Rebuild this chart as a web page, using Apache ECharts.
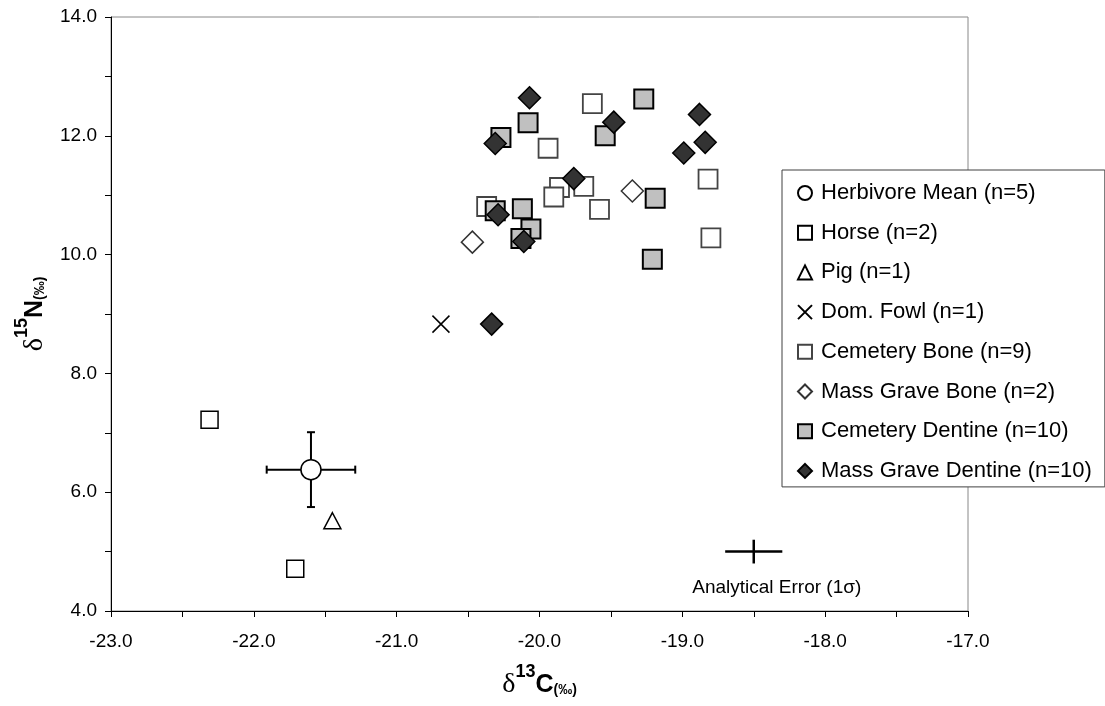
<!DOCTYPE html>
<html>
<head>
<meta charset="utf-8">
<script src="https://cdn.jsdelivr.net/npm/echarts@6/dist/echarts.min.js"></script>
<style>
  html, body { margin: 0; padding: 0; background: #fff; }
  #chart { width: 1105px; height: 706px; }
</style>
</head>
<body>
<div id="chart"></div>
<script>
// [d13C, d15N] pairs
const herbivoreMean = [[-21.6, 6.38]];
const herbivoreSd = [[0.31, 0.63]];
const horse = [[-22.31, 7.22], [-21.71, 4.71]];
const pig = [[-21.45, 5.52]];
const domFowl = [[-20.69, 8.83]];
const cemeteryBone = [
  [-19.63, 12.54], [-19.94, 11.79], [-18.82, 11.27], [-19.69, 11.15], [-19.86, 11.13],
  [-19.90, 10.97], [-19.58, 10.76], [-20.37, 10.81], [-18.80, 10.28]
];
const massGraveBone = [[-19.35, 11.07], [-20.47, 10.21]];
const cemeteryDentine = [
  [-20.08, 12.22], [-20.27, 11.97], [-19.27, 12.62], [-19.54, 12.00], [-19.19, 10.95],
  [-19.21, 9.92], [-20.12, 10.77], [-20.31, 10.74], [-20.06, 10.43], [-20.13, 10.27]
];
const massGraveDentine = [
  [-20.07, 12.64], [-20.31, 11.87], [-19.48, 12.23], [-18.88, 12.36], [-18.84, 11.89],
  [-18.99, 11.71], [-19.76, 11.28], [-20.29, 10.67], [-20.11, 10.22], [-20.335, 8.83]
];
const analyticalError = [[-18.5, 5.0]];
const analyticalSd = [[0.2, 0.2]];

const legendNames = [
  'Herbivore Mean (n=5)', 'Horse (n=2)', 'Pig (n=1)', 'Dom. Fowl (n=1)',
  'Cemetery Bone (n=9)', 'Mass Grave Bone (n=2)', 'Cemetery Dentine (n=10)', 'Mass Grave Dentine (n=10)'
];

const FONT = 'Liberation Sans';

function isWhole(v) { return Math.abs(v - Math.round(v)) < 1e-9; }

function errorBarItem(params, api) {
  const x = api.value(0), y = api.value(1), sx = api.value(2), sy = api.value(3);
  const l = api.coord([x - sx, y]), r = api.coord([x + sx, y]);
  const t = api.coord([x, y + sy]), b = api.coord([x, y - sy]);
  const st = { stroke: '#000', lineWidth: 2 };
  const cap = 4;
  return {
    type: 'group',
    children: [
      { type: 'line', shape: { x1: l[0], y1: l[1], x2: r[0], y2: r[1] }, style: st },
      { type: 'line', shape: { x1: t[0], y1: t[1], x2: b[0], y2: b[1] }, style: st },
      { type: 'line', shape: { x1: l[0], y1: l[1] - cap, x2: l[0], y2: l[1] + cap }, style: st },
      { type: 'line', shape: { x1: r[0], y1: r[1] - cap, x2: r[0], y2: r[1] + cap }, style: st },
      { type: 'line', shape: { x1: t[0] - cap, y1: t[1], x2: t[0] + cap, y2: t[1] }, style: st },
      { type: 'line', shape: { x1: b[0] - cap, y1: b[1], x2: b[0] + cap, y2: b[1] }, style: st }
    ]
  };
}

function analyticalItem(params, api) {
  const x = api.value(0), y = api.value(1), sx = api.value(2), sy = api.value(3);
  const c = api.coord([x, y]);
  const l = api.coord([x - sx, y]), r = api.coord([x + sx, y]);
  const t = api.coord([x, y + sy]), b = api.coord([x, y - sy]);
  const st = { stroke: '#000', lineWidth: 2.5 };
  return {
    type: 'group',
    children: [
      { type: 'line', shape: { x1: l[0], y1: l[1], x2: r[0], y2: r[1] }, style: st },
      { type: 'line', shape: { x1: t[0], y1: t[1], x2: b[0], y2: b[1] }, style: st },
      {
        type: 'text',
        style: {
          text: 'Analytical Error (1σ)', x: c[0] + 23, y: c[1] + 36,
          align: 'center', verticalAlign: 'middle',
          font: '19px "' + FONT + '"', fill: '#000'
        }
      }
    ]
  };
}

const titleRich = {
  d: { fontFamily: 'Liberation Serif', fontSize: 28, color: '#000' },
  s: { fontFamily: FONT, fontSize: 18, fontWeight: 'bold', color: '#000', padding: [0, 0, 26, 0] },
  m: { fontFamily: FONT, fontSize: 25, fontWeight: 'bold', color: '#000' },
  u: { fontFamily: FONT, fontSize: 14, fontWeight: 'bold', color: '#000', padding: [11, 0, 0, 0] }
};

const chart = echarts.init(document.getElementById('chart'));
chart.setOption({
  animation: false,
  backgroundColor: '#fff',
  textStyle: { fontFamily: FONT },
  grid: { left: 111, right: 137, top: 17, bottom: 95, show: true, borderColor: '#888', borderWidth: 1 },
  xAxis: {
    type: 'value', min: -23, max: -17, interval: 0.5,
    name: '{d|δ}{s|13}{m|C}{u|(‰)}', nameLocation: 'middle', nameGap: 52,
    nameTextStyle: { rich: titleRich },
    axisLine: { show: true, onZero: false, lineStyle: { color: '#000', width: 1 } },
    axisTick: { show: true, length: 6, lineStyle: { color: '#000' } },
    axisLabel: {
      color: '#000', fontSize: 19, margin: 21, fontFamily: FONT,
      formatter: v => isWhole(v) ? v.toFixed(1) : ''
    },
    splitLine: { show: false }
  },
  yAxis: {
    type: 'value', min: 4, max: 14, interval: 1,
    name: '{d|δ}{s|15}{m|N}{u|(‰)}', nameLocation: 'middle', nameRotate: 90, nameGap: 52,
    nameTextStyle: { rich: titleRich },
    axisLine: { show: true, onZero: false, lineStyle: { color: '#000', width: 1 } },
    axisTick: { show: true, length: 6, lineStyle: { color: '#000' } },
    axisLabel: {
      color: '#000', fontSize: 19, margin: 14, fontFamily: FONT,
      formatter: v => (isWhole(v) && Math.round(v) % 2 === 0) ? v.toFixed(1) : ''
    },
    splitLine: { show: false }
  },
  legend: {
    orient: 'vertical', left: 782, top: 170,
    padding: [12, 13, 5, 15],
    itemGap: 17.7, itemWidth: 14, itemHeight: 14,
    backgroundColor: '#fff', borderColor: '#404040', borderWidth: 1,
    textStyle: { fontFamily: FONT, fontSize: 22, lineHeight: 22, color: '#000', padding: [0, 0, 0, 4] },
    data: legendNames, selectedMode: false, z: 10
  },
  series: [
    {
      name: 'sd', type: 'custom', renderItem: errorBarItem, z: 1,
      data: herbivoreMean.map((p, i) => [p[0], p[1], herbivoreSd[i][0], herbivoreSd[i][1]])
    },
    {
      name: 'analytical', type: 'custom', renderItem: analyticalItem, z: 1,
      data: analyticalError.map((p, i) => [p[0], p[1], analyticalSd[i][0], analyticalSd[i][1]])
    },
    {
      name: legendNames[0], type: 'scatter', data: herbivoreMean, z: 3,
      symbol: 'circle', symbolSize: 20,
      itemStyle: { color: '#fff', borderColor: '#000', borderWidth: 1.5, opacity: 1 }
    },
    {
      name: legendNames[1], type: 'scatter', data: horse, z: 3,
      symbol: 'rect', symbolSize: 17,
      itemStyle: { color: '#fff', borderColor: '#000', borderWidth: 1.5, opacity: 1 }
    },
    {
      name: legendNames[2], type: 'scatter', data: pig, z: 3,
      symbol: 'triangle', symbolSize: [17, 16],
      itemStyle: { color: '#fff', borderColor: '#000', borderWidth: 1.5, opacity: 1 }
    },
    {
      name: legendNames[3], type: 'scatter', data: domFowl, z: 3,
      symbol: 'path://M0,0L20,20M20,0L0,20', symbolSize: 17,
      itemStyle: { color: 'rgba(0,0,0,0)', borderColor: '#000', borderWidth: 1.5, opacity: 1 }
    },
    {
      name: legendNames[4], type: 'scatter', data: cemeteryBone, z: 3,
      symbol: 'rect', symbolSize: 19,
      itemStyle: { color: '#fff', borderColor: '#444', borderWidth: 1.8, opacity: 1 }
    },
    {
      name: legendNames[5], type: 'scatter', data: massGraveBone, z: 3,
      symbol: 'diamond', symbolSize: 22,
      itemStyle: { color: '#fff', borderColor: '#333', borderWidth: 1.5, opacity: 1 }
    },
    {
      name: legendNames[6], type: 'scatter', data: cemeteryDentine, z: 3,
      symbol: 'rect', symbolSize: 19,
      itemStyle: { color: '#c0c0c0', borderColor: '#000', borderWidth: 2, opacity: 1 }
    },
    {
      name: legendNames[7], type: 'scatter', data: massGraveDentine, z: 3,
      symbol: 'diamond', symbolSize: 22,
      itemStyle: { color: '#333', borderColor: '#000', borderWidth: 1.5, opacity: 1 }
    }
  ]
});
</script>
</body>
</html>
